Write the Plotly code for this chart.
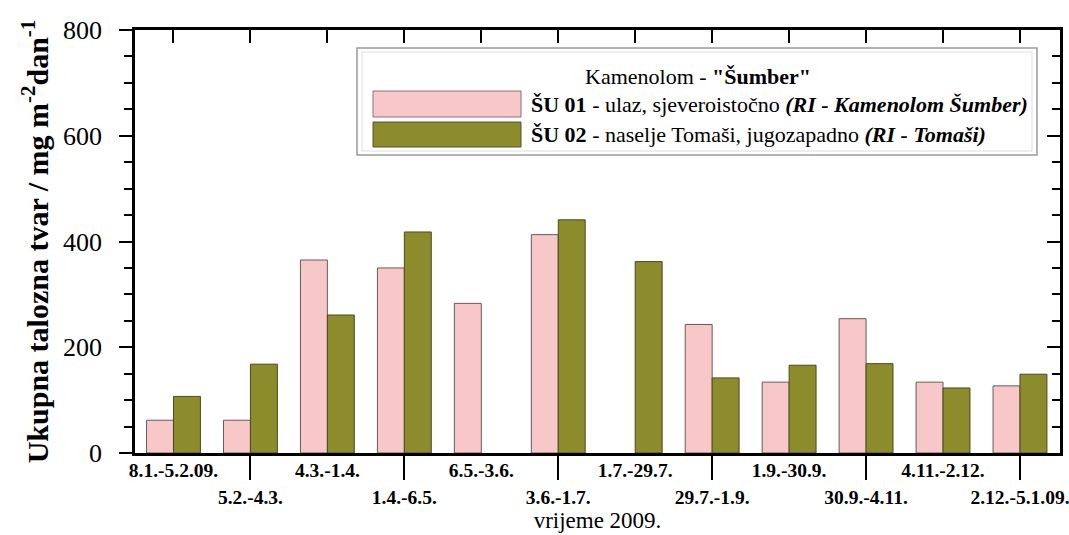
import plotly.graph_objects as go

categories = ["8.1.-5.2.09.", "5.2.-4.3.", "4.3.-1.4.", "1.4.-6.5.", "6.5.-3.6.", "3.6.-1.7.",
              "1.7.-29.7.", "29.7.-1.9.", "1.9.-30.9.", "30.9.-4.11.", "4.11.-2.12.", "2.12.-5.1.09."]
su01 = [62, 62, 365, 350, 283, 413, None, 243, 134, 254, 134, 127]
su02 = [107, 168, 261, 418, None, 441, 362, 142, 166, 169, 123, 149]
y_ticks = [0, 200, 400, 600, 800]

PINK = "#F8C8C8"
OLIVE = "#8C8C2C"
SERIF = "'Liberation Serif', 'Times New Roman', 'DejaVu Serif', serif"

idx = list(range(len(categories)))
odd = [i for i in idx if i % 2 == 1]
even = [i for i in idx if i % 2 == 0]

fig = go.Figure()
fig.add_trace(go.Bar(x=idx, y=su01, name="ŠU 01", marker=dict(color=PINK, line=dict(color="#6a5a5a", width=1)),
                     showlegend=False))
fig.add_trace(go.Bar(x=idx, y=su02, name="ŠU 02", marker=dict(color=OLIVE, line=dict(color="#4a4a20", width=1)),
                     showlegend=False))
# empty helpers so overlay axes are drawn
fig.add_trace(go.Scatter(x=[], y=[], xaxis="x2", yaxis="y", showlegend=False))
fig.add_trace(go.Scatter(x=[], y=[], xaxis="x3", yaxis="y", showlegend=False))
fig.add_trace(go.Scatter(x=[], y=[], xaxis="x", yaxis="y2", showlegend=False))

L, R, T, B = 135, 9, 30, 82
W, H = 1069, 535
PW, PH = W - L - R, H - T - B
XR = [-0.5, 11.52]

def px(xp):
    return (xp - L) / PW

def py(yp):
    return (H - B - yp) / PH

fig.update_layout(
    width=W, height=H,
    margin=dict(l=L, r=R, t=T, b=B, autoexpand=False),
    paper_bgcolor="white", plot_bgcolor="white",
    barmode="group", bargap=0.3, bargroupgap=0,
    font=dict(family=SERIF, color="black"),
    xaxis=dict(range=XR, tickmode="array", tickvals=odd, ticktext=["<b>%s</b>" % categories[i] for i in odd],
               ticks="outside", ticklen=24, tickwidth=2, tickcolor="black",
               showline=True, linewidth=2.5, linecolor="black", mirror=True,
               showgrid=False, zeroline=False, ticklabelstandoff=1, ticklabeloverflow="allow",
               tickfont=dict(family=SERIF, size=19.5, color="black"),
               title=dict(text="vrijeme 2009.", font=dict(family=SERIF, size=23), standoff=0)),
    xaxis2=dict(range=XR, overlaying="x", anchor="y", side="bottom", tickmode="array",
                tickvals=even, ticktext=["<b>%s</b>" % categories[i] for i in even],
                ticks="", showline=False, showgrid=False, zeroline=False, ticklabelstandoff=3,
                ticklabeloverflow="allow",
                tickfont=dict(family=SERIF, size=19.5, color="black")),
    xaxis3=dict(range=XR, overlaying="x", anchor="y", side="top", tickmode="array",
                tickvals=idx, showticklabels=False, ticks="inside", ticklen=13, tickwidth=2,
                tickcolor="black", showline=False, showgrid=False, zeroline=False),
    yaxis=dict(range=[0, 800], tickmode="array", tickvals=y_ticks,
               ticks="outside", ticklen=13, tickwidth=2, tickcolor="black",
               minor=dict(tickmode="linear", dtick=50, ticks="outside", ticklen=8, tickwidth=1.5, tickcolor="black"),
               showline=True, linewidth=2.5, linecolor="black", mirror=True,
               showgrid=False, zeroline=False, ticklabelstandoff=12,
               tickfont=dict(family=SERIF, size=26, color="black"),
               title=dict(text="<b>Ukupna talozna tvar / mg m<sup>-2</sup>dan<sup>-1</sup></b>",
                          font=dict(family=SERIF, size=30), standoff=6)),
    yaxis2=dict(range=[0, 800], overlaying="y", anchor="x", side="right", tickmode="array",
                tickvals=y_ticks, showticklabels=False, ticks="inside", ticklen=13, tickwidth=2,
                tickcolor="black",
                minor=dict(tickmode="linear", dtick=50, ticks="inside", ticklen=8, tickwidth=1.5, tickcolor="black"),
                showline=False, showgrid=False, zeroline=False),
)

# legend box drawn manually
shapes = [
    dict(type="rect", xref="paper", yref="paper", x0=px(357), x1=px(1037), y0=py(155), y1=py(48),
         line=dict(color="#999999", width=1.5), fillcolor="white", layer="above"),
    dict(type="rect", xref="paper", yref="paper", x0=px(362), x1=px(1032), y0=py(151), y1=py(52),
         line=dict(color="#dddddd", width=1), fillcolor="rgba(0,0,0,0)", layer="above"),
    dict(type="rect", xref="paper", yref="paper", x0=px(373), x1=px(521), y0=py(117), y1=py(91),
         line=dict(color="#8a7070", width=1), fillcolor=PINK, layer="above"),
    dict(type="rect", xref="paper", yref="paper", x0=px(373), x1=px(521), y0=py(147), y1=py(122),
         line=dict(color="#555530", width=1), fillcolor=OLIVE, layer="above"),
]
fig.update_layout(shapes=shapes)

ann = [
    dict(text='Kamenolom - <b>"Šumber"</b>', x=px(583), y=py(76)),
    dict(text="<b>ŠU 01</b> - ulaz, sjeveroistočno <b><i>(RI - Kamenolom Šumber)</i></b>", x=px(529), y=py(104)),
    dict(text="<b>ŠU 02</b> - naselje Tomaši, jugozapadno <b><i>(RI - Tomaši)</i></b>", x=px(529), y=py(134)),
]
for a in ann:
    fig.add_annotation(xref="paper", yref="paper", xanchor="left", yanchor="middle", showarrow=False,
                       font=dict(family=SERIF, size=22, color="black"), **a)

fig.write_html("out.html")
